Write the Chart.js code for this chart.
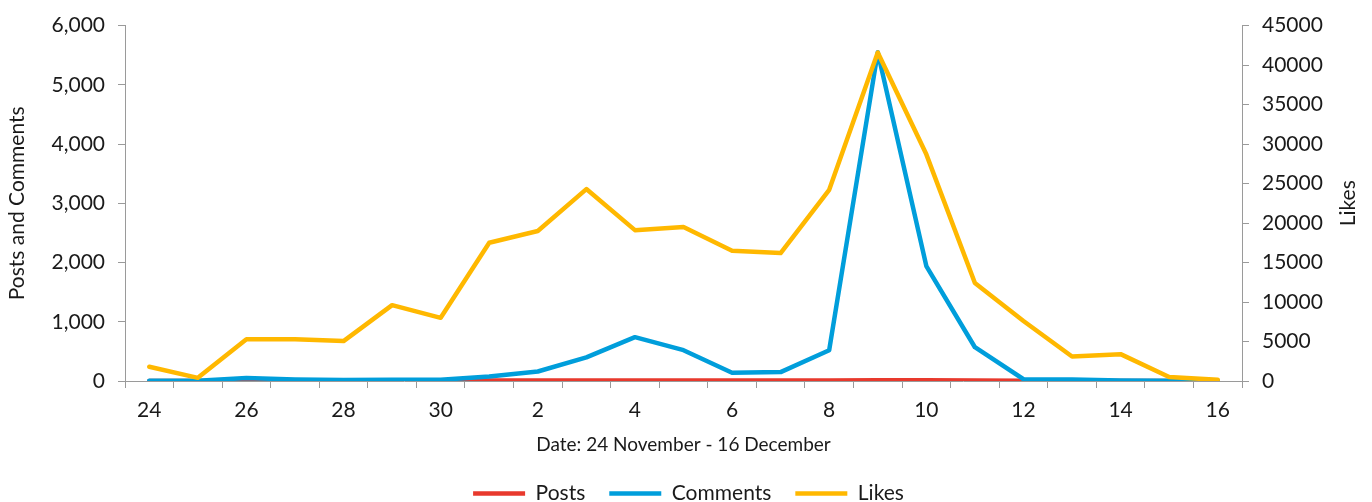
<!DOCTYPE html>
<html>
<head>
<meta charset="utf-8">
<script src="https://cdn.jsdelivr.net/npm/chart.js@4.4.1/dist/chart.umd.min.js"></script>
<style>
  html, body { margin: 0; padding: 0; background: #fff; }
  #wrap { width: 1372px; height: 502px; }
</style>
</head>
<body>
<div id="wrap"><canvas id="c" width="1372" height="502"></canvas></div>
<script>
const days = ['24','25','26','27','28','29','30','1','2','3','4','5','6','7','8','9','10','11','12','13','14','15','16'];
const posts = [2,1,3,2,2,3,3,8,10,9,8,8,9,9,10,14,12,8,5,3,2,1,1];
const comments = [5,5,50,25,15,20,20,75,160,400,740,520,140,150,520,5550,1940,570,30,25,10,5,0];
const likes = [1800,400,5300,5300,5050,9600,8000,17500,19000,24300,19100,19500,16500,16200,24200,41600,28700,12400,7600,3100,3400,500,150];
const leftTicks = [0,1000,2000,3000,4000,5000,6000];
const rightTicks = [0,5000,10000,15000,20000,25000,30000,35000,40000,45000];

const FONT = 'Lato, "Open Sans", sans-serif';
const AX = '#9a9a9a';
const TXT = '#1a1a1a';
const FS = 21;

const likesTitle = {
  id: 'likesTitle',
  afterDraw(chart) {
    const ctx = chart.ctx;
    const a = chart.chartArea;
    ctx.save();
    ctx.fillStyle = TXT;
    ctx.font = FS + 'px ' + FONT;
    ctx.textAlign = 'center';
    ctx.textBaseline = 'middle';
    ctx.translate(1348, (a.top + a.bottom) / 2);
    ctx.rotate(-Math.PI / 2);
    ctx.fillText('Likes', 0, 0);
    ctx.restore();
  }
};

new Chart(document.getElementById('c'), {
  type: 'line',
  data: {
    labels: days,
    datasets: [
      { label: 'Posts', data: posts, yAxisID: 'y', borderColor: '#E8392D', backgroundColor: '#E8392D', borderWidth: 4.5, order: 3 },
      { label: 'Comments', data: comments, yAxisID: 'y', borderColor: '#009EDB', backgroundColor: '#009EDB', borderWidth: 4.5, order: 2 },
      { label: 'Likes', data: likes, yAxisID: 'y1', borderColor: '#FFB800', backgroundColor: '#FFB800', borderWidth: 4.5, order: 1 }
    ]
  },
  options: {
    responsive: false,
    animation: false,
    devicePixelRatio: 1,
    layout: { padding: { top: 14, left: 5, right: 0, bottom: -12 } },
    elements: {
      line: { tension: 0, borderJoinStyle: 'round', borderCapStyle: 'round' },
      point: { radius: 0, hoverRadius: 0 }
    },
    plugins: {
      tooltip: { enabled: false },
      legend: {
        position: 'bottom',
        labels: {
          usePointStyle: true,
          pointStyle: 'line',
          pointStyleWidth: 52,
          padding: 24,
          color: TXT,
          font: { family: FONT, size: FS },
          sort: (a, b) => a.datasetIndex - b.datasetIndex
        }
      }
    },
    scales: {
      x: {
        type: 'category',
        offset: true,
        grid: { offset: true, drawOnChartArea: false, drawTicks: true, tickLength: 7, color: AX },
        border: { display: true, color: AX, width: 1 },
        ticks: {
          autoSkip: false,
          maxRotation: 0,
          padding: 10,
          color: TXT,
          font: { family: FONT, size: FS },
          callback: function (v, i) { return i % 2 === 0 ? days[i] : ''; }
        },
        title: { display: true, text: 'Date: 24 November - 16 December', color: TXT, font: { family: FONT, size: 19 }, padding: { top: 0, bottom: 3 } }
      },
      y: {
        position: 'left',
        min: 0, max: 6000,
        afterFit(s) { s.width = 120; },
        afterBuildTicks(s) { s.ticks = leftTicks.map(v => ({ value: v })); },
        grid: { drawOnChartArea: false, tickLength: 7, color: AX },
        border: { display: true, color: AX, width: 1 },
        ticks: { padding: 13, color: TXT, font: { family: FONT, size: FS },
          callback: v => v.toLocaleString('en-US') },
        title: { display: true, text: 'Posts and Comments', color: TXT, font: { family: FONT, size: FS }, padding: { top: 0, bottom: 0 } }
      },
      y1: {
        position: 'right',
        min: 0, max: 45000,
        afterFit(s) { s.width = 130; },
        afterBuildTicks(s) { s.ticks = rightTicks.map(v => ({ value: v })); },
        grid: { drawOnChartArea: false, tickLength: 7, color: AX },
        border: { display: true, color: AX, width: 1 },
        ticks: { padding: 13, color: TXT, font: { family: FONT, size: FS },
          callback: v => String(v) }
      }
    }
  },
  plugins: [likesTitle]
});
</script>
</body>
</html>
